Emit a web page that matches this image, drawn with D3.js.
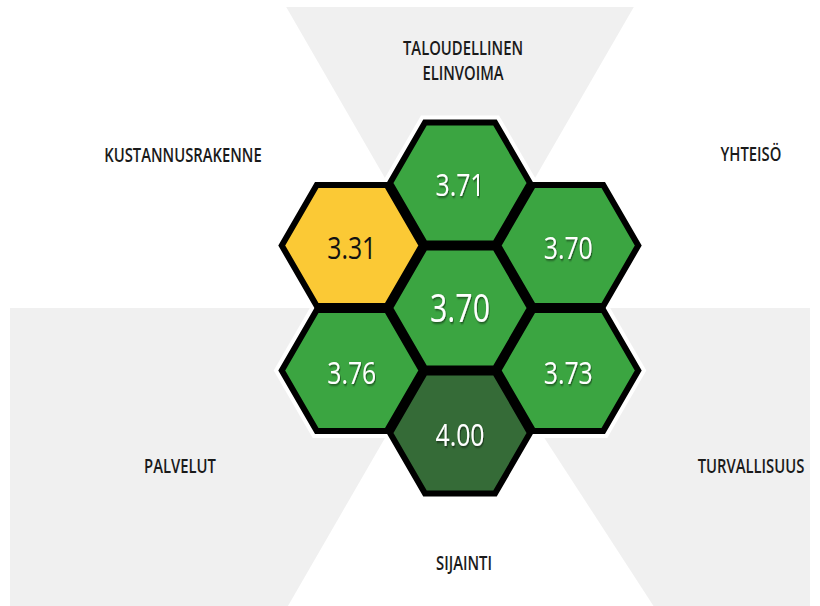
<!DOCTYPE html>
<html>
<head>
<meta charset="utf-8">
<script src="https://cdn.jsdelivr.net/npm/d3@7"></script>
<style>
  body { margin: 0; background: #fff; }
  text { font-family: "Open Sans", "Noto Sans", sans-serif; }
</style>
</head>
<body>
<div id="hex-chart"></div>
<script>
// categories going clockwise from the top, their scores and the overall score
var categories = ["TALOUDELLINEN ELINVOIMA", "YHTEISÖ", "TURVALLISUUS", "SIJAINTI", "PALVELUT", "KUSTANNUSRAKENNE"];
var scores = [3.71, 3.70, 3.73, 4.00, 3.76, 3.31];
var overall = 3.70;
var colorBreaks = [3.5, 3.9];
var colorNames = ["#fbc935", "#3ba541", "#356b37"];

var width = 820, height = 606,
    cx = 460, cy = 308,
    hexR = 70, step = 125,
    squeeze = 0.8,      // the original uses a condensed face
    labSqueeze = 0.76;

// where each category label sits (layout only)
var labelPos = [
    { x: 463, y: 55 }, { x: 751, y: 161 }, { x: 751, y: 473 },
    { x: 464, y: 570 }, { x: 180, y: 473 }, { x: 183, y: 162 }
];

var color = d3.scaleThreshold().domain(colorBreaks).range(colorNames);
// angle of each category around the centre (degrees, 0 = right, counter-clockwise)
var angle = d3.scaleLinear().domain([0, 6]).range([90, -270]);

var svg = d3.select("#hex-chart").append("svg")
    .attr("width", width)
    .attr("height", height);

var defs = svg.append("defs");
defs.append("clipPath").attr("id", "bgclip")
    .append("rect").attr("x", 10).attr("y", 7).attr("width", 800).attr("height", 600);
var shadow = defs.append("filter").attr("id", "shadow")
    .attr("x", "-20%").attr("y", "-20%").attr("width", "140%").attr("height", "140%");
shadow.append("feDropShadow").attr("dx", 1).attr("dy", 1.5).attr("stdDeviation", 0.8)
    .attr("flood-color", "#000").attr("flood-opacity", 0.55);

// grey background sectors: top, lower right, lower left
var far = 900;
function sector(a0, a1) {
    var r0 = a0 * Math.PI / 180, r1 = a1 * Math.PI / 180;
    return [[cx, cy],
        [cx + far * Math.cos(r0), cy - far * Math.sin(r0)],
        [cx + far * Math.cos((r0 + r1) / 2) * 1.5, cy - far * Math.sin((r0 + r1) / 2) * 1.5],
        [cx + far * Math.cos(r1), cy - far * Math.sin(r1)]];
}
var sectors = [sector(60, 120), sector(-57, 0), sector(180, 240)];
svg.append("g").attr("clip-path", "url(#bgclip)")
    .selectAll("polygon").data(sectors)
    .enter().append("polygon")
    .attr("points", function(d) { return d.map(function(p) { return p.join(","); }).join(" "); })
    .attr("fill", "#f0f0f0");

// hexagon cells
var cells = scores.map(function(v, i) {
    var a = angle(i) * Math.PI / 180;
    return { value: v, x: cx + step * Math.cos(a), y: cy - step * Math.sin(a), big: false };
});
cells.push({ value: overall, x: cx, y: cy, big: true });

function hexPath(r) {
    var pts = d3.range(6).map(function(k) {
        var a = k * Math.PI / 3;
        return [r * Math.cos(a), r * Math.sin(a)];
    });
    return d3.line()(pts) + "Z";
}

var g = svg.append("g");
// white halo round the honeycomb
g.selectAll(".halo").data(cells)
    .enter().append("path")
    .attr("class", "halo")
    .attr("transform", function(d) { return "translate(" + d.x + "," + d.y + ")"; })
    .attr("d", hexPath(hexR))
    .attr("fill", "#fff")
    .attr("stroke", "#fff")
    .attr("stroke-width", 14);

g.selectAll(".hex").data(cells)
    .enter().append("path")
    .attr("class", "hex")
    .attr("transform", function(d) { return "translate(" + d.x + "," + d.y + ")"; })
    .attr("d", hexPath(hexR))
    .attr("fill", function(d) { return color(d.value); })
    .attr("stroke", "#000")
    .attr("stroke-width", 6);

g.selectAll(".val").data(cells)
    .enter().append("text")
    .attr("class", "val")
    .attr("transform", function(d) { return "translate(" + d.x + "," + d.y + ") scale(" + squeeze + ",1)"; })
    .attr("dy", function(d) { return d.big ? "0.36em" : "0.42em"; })
    .attr("text-anchor", "middle")
    .style("font-size", function(d) { return d.big ? "38px" : "31px"; })
    .attr("fill", function(d) { return d.value < colorBreaks[0] ? "#111" : "#fff"; })
    .attr("filter", function(d) { return d.value < colorBreaks[0] ? null : "url(#shadow)"; })
    .text(function(d) { return d3.format(".2f")(d.value); });

// category labels
var lab = svg.append("g").selectAll(".lab").data(categories)
    .enter().append("text")
    .attr("class", "lab")
    .attr("transform", function(d, i) { return "translate(" + labelPos[i].x + "," + labelPos[i].y + ") scale(" + labSqueeze + ",1)"; })
    .attr("text-anchor", "middle")
    .style("font-size", "19.5px")
    .style("font-weight", 600)
    .attr("fill", "#1a1a1a");
lab.each(function(d, i) {
    var words = i === 0 ? d.split(" ") : [d];
    var t = d3.select(this);
    words.forEach(function(w, k) {
        t.append("tspan").attr("x", 0).attr("dy", k ? 25 : 0).text(w);
    });
});
</script>
</body>
</html>
